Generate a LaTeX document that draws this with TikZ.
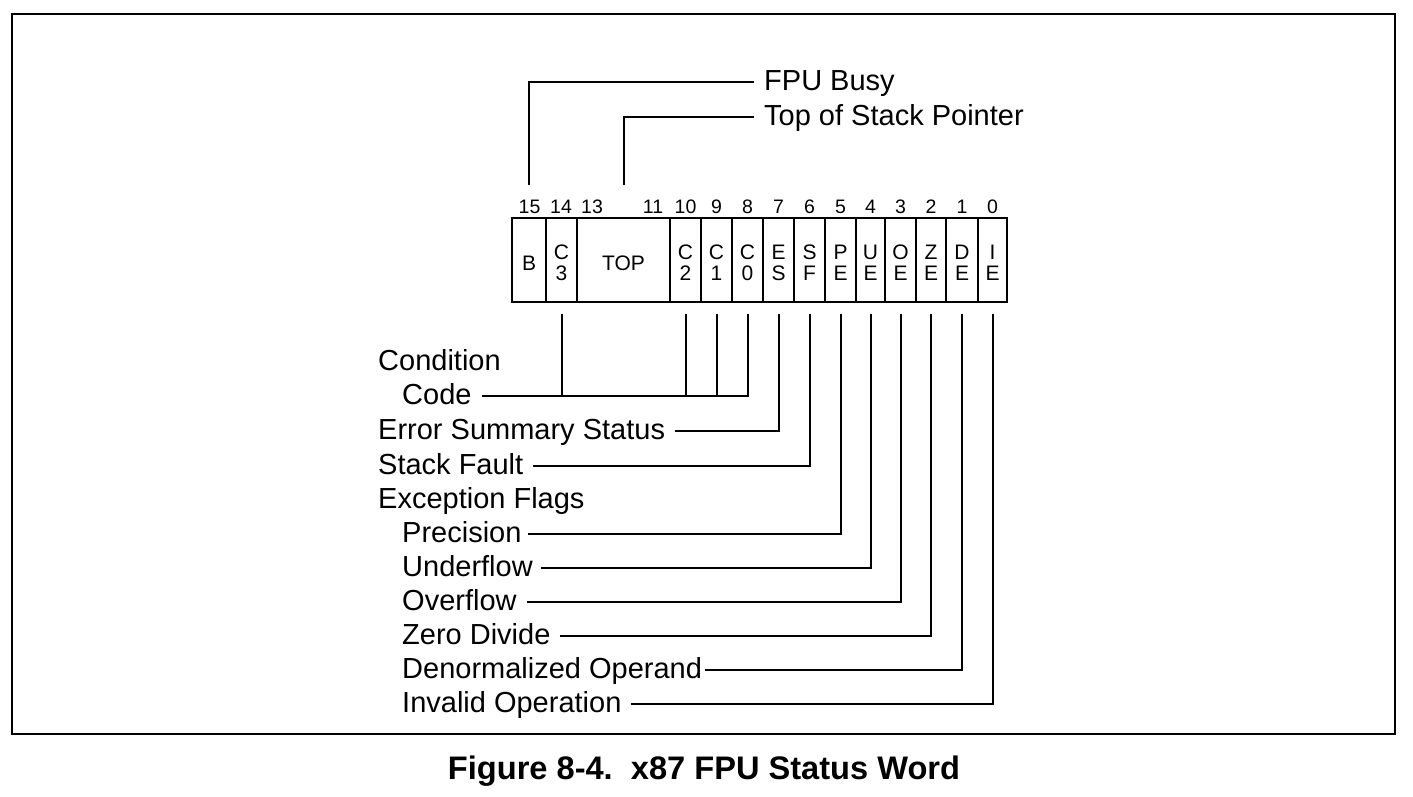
\documentclass[tikz,border=0pt]{standalone}
\usepackage{fontspec}
\setmainfont{Liberation Sans}
\begin{document}
\begin{tikzpicture}[x=1pt,y=-1pt,
  lbl/.style={anchor=base west, inner sep=0pt, font=\fontsize{29}{30}\selectfont},
  bitno/.style={anchor=base, inner sep=0pt, font=\fontsize{19.5}{20}\selectfont},
  cell/.style={draw, line width=2pt, minimum height=84pt, minimum width=#1, inner sep=0pt},
  ctext/.style={inner sep=0pt, align=center, font=\fontsize{21}{21}\selectfont, yshift=-3pt},
  ldr/.style={line width=2pt, line join=miter}]
\useasboundingbox (0,0) rectangle (1413,797);
\draw[line width=2.2pt] (12,14) rectangle (1395,734);

% register cells
\node[cell=34pt, label={[ctext]center:B}]         (b)   at (529,260)   {};
\node[cell=31pt, label={[ctext]center:{C\\3}}]    (c3)  at (561.5,260) {};
\node[cell=93pt, label={[ctext]center:TOP}]       (top) at (623.5,260) {};
\node[cell=31pt, label={[ctext]center:{C\\2}}]    (c2)  at (685.5,260) {};
\node[cell=31pt, label={[ctext]center:{C\\1}}]    (c1)  at (716.5,260) {};
\node[cell=31pt, label={[ctext]center:{C\\0}}]    (c0)  at (747.5,260) {};
\node[cell=31pt, label={[ctext]center:{E\\S}}]    (es)  at (778.5,260) {};
\node[cell=31pt, label={[ctext]center:{S\\F}}]    (sf)  at (809.5,260) {};
\node[cell=31pt, label={[ctext]center:{P\\E}}]    (pe)  at (840.5,260) {};
\node[cell=29pt, label={[ctext]center:{U\\E}}]    (ue)  at (870.5,260) {};
\node[cell=31pt, label={[ctext]center:{O\\E}}]    (oe)  at (900.5,260) {};
\node[cell=30pt, label={[ctext]center:{Z\\E}}]    (ze)  at (931,260)   {};
\node[cell=32pt, label={[ctext]center:{D\\E}}]    (de)  at (962,260)   {};
\node[cell=29pt, label={[ctext]center:{I\\E}}]    (ie)  at (992.5,260) {};

% bit numbers
\node[bitno] (n15) at (529.5,213) {15};
\node[bitno] (n14) at (561,213) {14};
\node[bitno] (n13) at (592,213) {13};
\node[bitno] (n11) at (653,213) {11};
\node[bitno] (n10) at (685.5,213) {10};
\node[bitno] (n9) at (716.5,213) {9};
\node[bitno] (n8) at (747.5,213) {8};
\node[bitno] (n7) at (778.5,213) {7};
\node[bitno] (n6) at (809.5,213) {6};
\node[bitno] (n5) at (840.5,213) {5};
\node[bitno] (n4) at (870.5,213) {4};
\node[bitno] (n3) at (900.5,213) {3};
\node[bitno] (n2) at (931,213) {2};
\node[bitno] (n1) at (962,213) {1};
\node[bitno] (n0) at (992.5,213) {0};

% upper labels
\node[lbl] (fpu) at (764,91) {FPU Busy};
\node[lbl] (tsp) at (764,126) {Top of Stack Pointer};
\draw[ldr] ([shift={(-10pt,9pt)}]fpu.base west) -| ([yshift=32pt]b.north);
\draw[ldr] ([shift={(-10pt,9pt)}]tsp.base west) -| ([yshift=32pt]top.north);

% lower labels
\node[lbl] (cond) at (378,370) {Condition};
\node[lbl] (code) at (402,404) {Code};
\node[lbl] (ess)  at (378,439) {Error Summary Status};
\node[lbl] (sfl)  at (378,474) {Stack Fault};
\node[lbl] (exf)  at (378,508) {Exception Flags};
\node[lbl] (prec) at (402,542) {Precision};
\node[lbl] (undf) at (402,576) {Underflow};
\node[lbl] (ovf)  at (402,610) {Overflow};
\node[lbl] (zdiv) at (402,644) {Zero Divide};
\node[lbl] (dnop) at (402,678) {Denormalized Operand};
\node[lbl] (inop) at (402,712) {Invalid Operation};

\draw[ldr] ([shift={(10pt,8pt)}]code.base east) coordinate (cc) -| ([yshift=-11pt]c0.south);
\foreach \c in {c3,c2,c1} \draw[ldr] ([yshift=-11pt]\c.south) -- (\c.south |- cc);
\draw[ldr] ([shift={(10pt,8pt)}]ess.base east) -| ([yshift=-11pt]es.south);
\draw[ldr] ([shift={(10pt,8pt)}]sfl.base east) -| ([yshift=-11pt]sf.south);
\draw[ldr] ([shift={(6pt,8pt)}]prec.base east) -| ([yshift=-11pt]pe.south);
\draw[ldr] ([shift={(8pt,8pt)}]undf.base east) -| ([yshift=-11pt]ue.south);
\draw[ldr] ([shift={(10pt,8pt)}]ovf.base east) -| ([yshift=-11pt]oe.south);
\draw[ldr] ([shift={(9pt,8pt)}]zdiv.base east) -| ([yshift=-11pt]ze.south);
\draw[ldr] ([shift={(3pt,8pt)}]dnop.base east) -| ([yshift=-11pt]de.south);
\draw[ldr] ([shift={(9pt,8pt)}]inop.base east) -| ([yshift=-11pt]ie.south);

% caption
\node[anchor=base, inner sep=0pt, font=\bfseries\fontsize{32.6}{34}\selectfont] (cap) at (704,779) {Figure 8-4.\hspace{0.556em}x87 FPU Status Word};
\end{tikzpicture}
\end{document}
